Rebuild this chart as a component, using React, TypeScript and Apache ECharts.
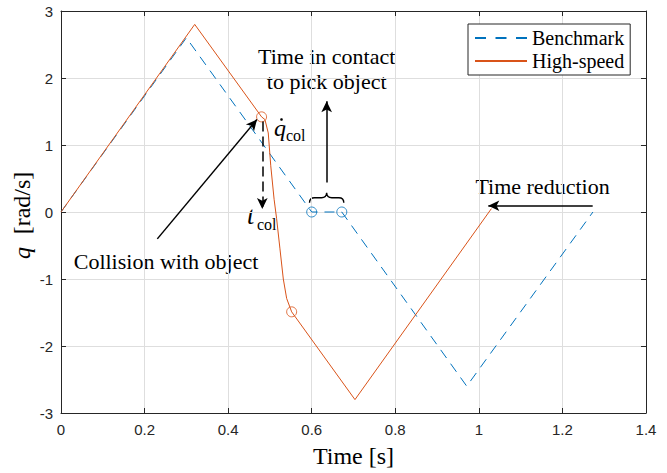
import React, { useEffect, useRef } from "react";
import * as echarts from "echarts";

// ---- data ----
const benchmarkTime = [0, 0.3, 0.6, 0.672, 0.971, 1.273];
const benchmarkQ = [0, 2.6, 0, 0, -2.6, 0];

const highSpeedTime = [0, 0.32, 0.48, 0.488, 0.496, 0.502, 0.51, 0.516, 0.524, 0.532, 0.54, 0.552, 0.7035, 1.03];
const highSpeedQ = [0, 2.8, 1.42, 1.38, 1.18, 0.69, 0.19, -0.1, -0.55, -1.0, -1.29, -1.49, -2.8, 0.05];

const contactTime = [0.6, 0.672];
const contactQ = [0, 0];

const collisionTime = [0.48, 0.552];
const collisionQ = [1.42, -1.49];

// annotation arrows [start, tip] in data coordinates
const arrowCollision = [[0.2305, -0.401], [0.469, 1.381]];
const arrowTcol = [[0.4817, 1.351], [0.4817, 0.045]];
const arrowContact = [[0.6358, 0.441], [0.6358, 1.653]];
const arrowReduction = [[1.2724, 0.0936], [1.0226, 0.0936]];

const xMin = 0, xMax = 1.4, xStep = 0.2;
const yMin = -3, yMax = 3, yStep = 1;

const zip = (a: number[], b: number[]) => a.map((v, i) => [v, b[i]]);

const SERIF = "'Liberation Serif', 'Times New Roman', serif";
const SANS = "'Liberation Sans', Arial, sans-serif";
const AXIS_COLOR = "#262626";
const BLUE = "#0072BD";
const ORANGE = "#D95319";

echarts.graphic.registerShape(
  "brace",
  echarts.graphic.extendPath(
    "M0 10 C0 6.5 1.5 5 5 5 L12 5 C15.5 5 17 3.5 17.15 0 C17.3 3.5 18.8 5 22.3 5 L29.3 5 C32.8 5 34.3 6.5 34.3 10",
    {}
  ) as any
);

const arrowItem = (a: number[][], dashed: boolean) => [
  {
    coord: a[0],
    symbol: "none",
    lineStyle: { color: "#000", width: 1.5, type: dashed ? [10, 5] : "solid" },
  },
  { coord: a[1], symbol: "arrow", symbolSize: [8, 11] },
];

const serifText = (text: string, x: number, y: number, size: number, opts: any = {}) => ({
  type: "text",
  x,
  y,
  silent: true,
  rotation: opts.rotation || 0,
  style: {
    text,
    font: `${opts.italic ? "italic " : ""}${size}px ${SERIF}`,
    lineHeight: opts.lineHeight,
    align: opts.align || "center",
    verticalAlign: "middle",
    fill: "#000",
  },
});

export default function App() {
  const ref = useRef<HTMLDivElement>(null);
  useEffect(() => {
    document.body.style.margin = "0";
    const chart = echarts.init(ref.current!, null, { renderer: "svg" });
    const axisCommon = {
      type: "value" as const,
      axisLine: { show: true, onZero: false, lineStyle: { color: AXIS_COLOR, width: 1 } },
      axisTick: { show: true, inside: true, length: 5, lineStyle: { color: AXIS_COLOR, width: 1 } },
    };
    chart.setOption({
      animation: false,
      backgroundColor: "#fff",
      grid: { left: 61, right: 21, top: 11, bottom: 58, containLabel: false },
      legend: {
        orient: "vertical",
        left: 468,
        top: 24,
        itemWidth: 52,
        itemHeight: 14,
        itemGap: 3,
        padding: [4, 6, 4, 6],
        backgroundColor: "#fff",
        borderColor: AXIS_COLOR,
        borderWidth: 1,
        borderRadius: 0,
        selectedMode: false,
        itemStyle: { color: "rgba(0,0,0,0)", borderWidth: 0, opacity: 0 },
        textStyle: { fontFamily: SERIF, fontSize: 20, color: "#000", lineHeight: 20 },
        data: [
          { name: "Benchmark", lineStyle: { type: [11, 9.5] } },
          { name: "High-speed" },
        ],
      },
      xAxis: [
        {
          ...axisCommon,
          position: "bottom",
          min: xMin,
          max: xMax,
          interval: xStep,
          splitLine: { show: true, lineStyle: { color: "#dedede", width: 1 } },
          axisLabel: { color: AXIS_COLOR, fontFamily: SANS, fontSize: 15, margin: 9 },
          name: "Time [s]",
          nameLocation: "middle",
          nameGap: 31,
          nameTextStyle: { fontFamily: SERIF, fontSize: 24, color: "#000" },
        },
        {
          ...axisCommon,
          position: "top",
          min: xMin,
          max: xMax,
          interval: xStep,
          splitLine: { show: false },
          axisLabel: { show: false },
        },
      ],
      yAxis: [
        {
          ...axisCommon,
          position: "left",
          min: yMin,
          max: yMax,
          interval: yStep,
          splitLine: { show: true, lineStyle: { color: "#dedede", width: 1 } },
          axisLabel: { color: AXIS_COLOR, fontFamily: SANS, fontSize: 15, margin: 8 },
        },
        {
          ...axisCommon,
          position: "right",
          min: yMin,
          max: yMax,
          interval: yStep,
          splitLine: { show: false },
          axisLabel: { show: false },
        },
      ],
      series: [
        {
          name: "Benchmark",
          type: "line",
          data: zip(benchmarkTime, benchmarkQ),
          symbol: "none",
          silent: true,
          lineStyle: { color: BLUE, width: 1, type: [10, 7] },
          itemStyle: { color: BLUE },
          z: 2,
        },
        {
          name: "High-speed",
          type: "line",
          data: zip(highSpeedTime, highSpeedQ),
          symbol: "none",
          silent: true,
          lineStyle: { color: ORANGE, width: 1 },
          itemStyle: { color: ORANGE },
          z: 3,
        },
        {
          name: "contact",
          type: "scatter",
          data: zip(contactTime, contactQ),
          symbol: "circle",
          symbolSize: 10,
          silent: true,
          itemStyle: { color: "rgba(0,0,0,0)", borderColor: BLUE, borderWidth: 1 },
          z: 4,
        },
        {
          name: "collision",
          type: "scatter",
          data: zip(collisionTime, collisionQ),
          symbol: "circle",
          symbolSize: 10,
          silent: true,
          itemStyle: { color: "rgba(0,0,0,0)", borderColor: ORANGE, borderWidth: 1 },
          z: 4,
          markLine: {
            silent: true,
            animation: false,
            label: { show: false },
            emphasis: { disabled: true },
            data: [
              arrowItem(arrowCollision, false),
              arrowItem(arrowTcol, true),
              arrowItem(arrowContact, false),
              arrowItem(arrowReduction, false),
            ],
          },
        },
      ],
      graphic: [
        serifText("Time in contact\nto pick object", 326.7, 69, 22, { lineHeight: 25 }),
        serifText("Collision with object", 166, 261, 22),
        serifText("Time reduction", 542.5, 186, 22),
        serifText("q", 274, 128, 24, { italic: true, align: "left" }),
        { type: "circle", silent: true, shape: { cx: 281.5, cy: 119.5, r: 1.3 }, style: { fill: "#000" } },
        serifText("col", 286, 135, 16, { align: "left" }),
        serifText("t", 247, 215, 26, { italic: true, align: "left" }),
        serifText("col", 257, 224, 16, { align: "left" }),
        // y-axis label, rotated
        serifText("[rad/s]", 22, 203, 24, { rotation: Math.PI / 2 }),
        serifText("q", 22, 253, 24, { rotation: Math.PI / 2, italic: true }),
        {
          type: "brace",
          x: 309.5,
          y: 192.7,
          silent: true,
          style: { stroke: "#000", fill: "none", lineWidth: 1.4 },
        },
      ],
    });
    return () => chart.dispose();
  }, []);
  return <div ref={ref} style={{ position: "absolute", left: 0, top: 0, width: 667, height: 473 }} />;
}
